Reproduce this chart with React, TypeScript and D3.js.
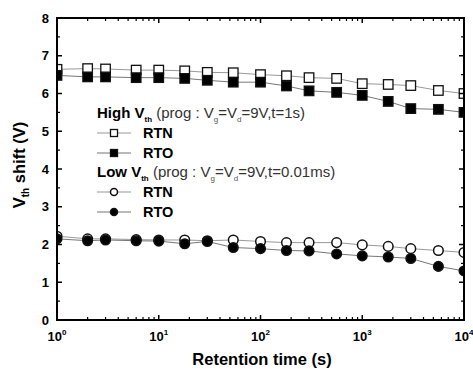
import React from "react";
import * as d3 from "d3";

// retention times (s)
const times = [1, 2, 3, 6, 10, 18, 30, 54, 100, 180, 300, 560, 1000, 1800, 3000, 5600, 10000];
const highRTN = [6.64, 6.66, 6.65, 6.62, 6.62, 6.6, 6.56, 6.55, 6.5, 6.47, 6.42, 6.4, 6.26, 6.24, 6.21, 6.08, 6.0];
const highRTO = [6.48, 6.44, 6.44, 6.42, 6.42, 6.4, 6.35, 6.3, 6.3, 6.2, 6.07, 6.03, 5.95, 5.79, 5.6, 5.58, 5.5];
const lowRTN = [2.22, 2.15, 2.15, 2.13, 2.12, 2.12, 2.1, 2.12, 2.08, 2.05, 2.05, 2.05, 1.99, 1.95, 1.89, 1.84, 1.79];
const lowRTO = [2.15, 2.1, 2.12, 2.1, 2.09, 2.02, 2.08, 1.92, 1.89, 1.84, 1.83, 1.75, 1.7, 1.67, 1.63, 1.42, 1.3];
const yTicks = [0, 1, 2, 3, 4, 5, 6, 7, 8];
const xDecades = [0, 1, 2, 3, 4];

const W = 473;
const H = 369;
const FONT = "'Liberation Sans', Arial, sans-serif";

export default function App() {
  const x = d3.scaleLog().domain([1, 1e4]).range([57, 464]);
  const y = d3.scaleLinear().domain([0, 8]).range([320, 18]);
  const [x0, x1] = x.range();
  const [y0, y1] = y.range();

  const line = d3
    .line<number>()
    .x((_, i) => x(times[i]))
    .y((d) => y(d));

  const minorX: number[] = [];
  for (let e = 0; e < 4; e++) for (let k = 2; k < 10; k++) minorX.push(k * Math.pow(10, e));
  const minorY = d3.range(0.5, 8, 1);

  const sq = 9.5;
  const r = 4.8;

  const series = [
    { data: highRTN, kind: "sq", fill: "#fff", lineColor: "#999" },
    { data: highRTO, kind: "sq", fill: "#000", lineColor: "#777" },
    { data: lowRTN, kind: "ci", fill: "#fff", lineColor: "#999" },
    { data: lowRTO, kind: "ci", fill: "#000", lineColor: "#777" },
  ];

  const marker = (kind: string, fill: string, cx: number, cy: number, s: number, key?: string) =>
    kind === "sq" ? (
      <rect key={key} x={cx - s / 2} y={cy - s / 2} width={s} height={s} fill={fill} stroke="#111" strokeWidth={1.3} />
    ) : (
      <circle key={key} cx={cx} cy={cy} r={s / 2} fill={fill} stroke="#111" strokeWidth={1.5} />
    );

  const legendRows = [
    { y: 113, head: "High", tail: "(prog : V", end: "=9V,t=1s)" },
    { y: 172, head: "Low", tail: " (prog : V", end: "=9V,t=0.01ms)" },
  ];

  return (
    <svg width={W} height={H} style={{ position: "absolute", left: 0, top: 0, background: "#fff" }} fontFamily={FONT}>
      {/* series lines */}
      <g>
        {series.map((s, i) => (
          <path key={i} d={line(s.data) || ""} fill="none" stroke={s.lineColor} strokeWidth={1} />
        ))}
      </g>
      <g>
        {series.map((s, i) => (
          <g key={i}>
            {s.data.map((v, j) =>
              marker(s.kind, s.fill, x(times[j]), y(v), s.kind === "sq" ? sq : r * 2, `${i}-${j}`)
            )}
          </g>
        ))}
      </g>
      {/* white out overflow past the frame */}
      <rect x={0} y={0} width={x0 - 1} height={H} fill="#fff" />
      <rect x={x1 + 1} y={0} width={W - x1} height={H} fill="#fff" />

      {/* frame */}
      <rect x={x0} y={y1} width={x1 - x0} height={y0 - y1} fill="none" stroke="#000" strokeWidth={2} />

      {/* y ticks, inward both sides */}
      {yTicks.map((t) => (
        <g key={t}>
          <line x1={x0} x2={x0 + 5} y1={y(t)} y2={y(t)} stroke="#000" strokeWidth={1.5} />
          <line x1={x1} x2={x1 - 5} y1={y(t)} y2={y(t)} stroke="#000" strokeWidth={1.5} />
          <text x={x0 - 8} y={y(t) + 4.5} textAnchor="end" fontSize={13} fontWeight="bold">
            {t}
          </text>
        </g>
      ))}
      {minorY.map((t) => (
        <g key={t}>
          <line x1={x0} x2={x0 + 3} y1={y(t)} y2={y(t)} stroke="#000" strokeWidth={1.2} />
          <line x1={x1} x2={x1 - 3} y1={y(t)} y2={y(t)} stroke="#000" strokeWidth={1.2} />
        </g>
      ))}

      {/* x ticks, inward top and bottom */}
      {xDecades.map((e) => {
        const px = x(Math.pow(10, e));
        return (
          <g key={e}>
            <line x1={px} x2={px} y1={y0} y2={y0 - 5} stroke="#000" strokeWidth={1.5} />
            <line x1={px} x2={px} y1={y1} y2={y1 + 5} stroke="#000" strokeWidth={1.5} />
            <text x={px} y={341} textAnchor="middle" fontSize={13} fontWeight="bold">
              10
              <tspan dy={-6} fontSize={8}>
                {e}
              </tspan>
            </text>
          </g>
        );
      })}
      {minorX.map((t) => (
        <g key={t}>
          <line x1={x(t)} x2={x(t)} y1={y0} y2={y0 - 3} stroke="#000" strokeWidth={1.2} />
          <line x1={x(t)} x2={x(t)} y1={y1} y2={y1 + 3} stroke="#000" strokeWidth={1.2} />
        </g>
      ))}

      {/* axis titles */}
      <text x={262} y={365} textAnchor="middle" fontSize={16.5} fontWeight="bold">
        Retention time (s)
      </text>
      <text transform="translate(25,165) rotate(-90)" textAnchor="middle" fontSize={16.5} fontWeight="bold">
        V<tspan dy={4} fontSize={10}>th</tspan>
        <tspan dy={-4}> shift (V)</tspan>
      </text>

      {/* legend */}
      {legendRows.map((row, gi) => (
        <g key={gi}>
          <text x={97} y={row.y + 5} fontSize={15}>
            <tspan fontWeight="bold">{row.head} V</tspan>
            <tspan fontWeight="bold" dy={4} fontSize={8}>th</tspan>
            <tspan dy={-4} fill="#333">{"  " + row.tail}</tspan>
            <tspan dy={4} fontSize={8} fill="#555">g</tspan>
            <tspan dy={-4} fill="#333">=V</tspan>
            <tspan dy={4} fontSize={8} fill="#555">d</tspan>
            <tspan dy={-4} fill="#333">{row.end}</tspan>
          </text>
          {[0, 1].map((k) => {
            const s = series[gi * 2 + k];
            const ly = row.y + 20 * (k + 1);
            return (
              <g key={k}>
                <line x1={97} x2={131} y1={ly} y2={ly} stroke={s.lineColor} strokeWidth={1.2} />
                {marker(s.kind, s.fill, 114, ly, 7)}
                <text x={143} y={ly + 5} fontSize={14.5} fontWeight="bold">
                  {k === 0 ? "RTN" : "RTO"}
                </text>
              </g>
            );
          })}
        </g>
      ))}
    </svg>
  );
}
